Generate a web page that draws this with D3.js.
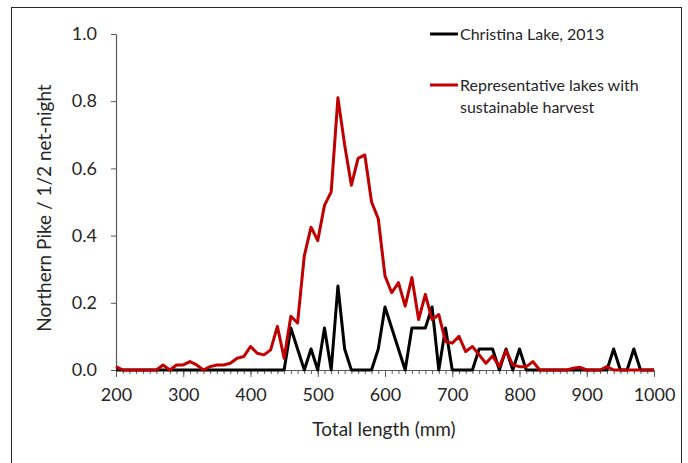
<!DOCTYPE html>
<html lang="en">
<head>
    <meta charset="UTF-8">
    <title>Northern Pike length frequency</title>
    <script src="https://cdn.jsdelivr.net/npm/d3@7"></script>
    <style>
        body{
            margin: 0;
            background: #fff;
        }
        text{
            font-family: Lato, "Open Sans", sans-serif;
            fill: #262626;
        }
        .axis path, .axis line{
            stroke: #595959;
        }
        .axis text{
            font-size: 18px;
        }
        .series{
            fill: none;
            stroke-width: 3px;
            stroke-linejoin: round;
        }
    </style>
</head>
<body>
<svg id="svg_main" width="688" height="463"></svg>
<script>
    // length classes (mm)
    const lengths = [200, 210, 220, 230, 240, 250, 260, 270, 280, 290,
        300, 310, 320, 330, 340, 350, 360, 370, 380, 390,
        400, 410, 420, 430, 440, 450, 460, 470, 480, 490,
        500, 510, 520, 530, 540, 550, 560, 570, 580, 590,
        600, 610, 620, 630, 640, 650, 660, 670, 680, 690,
        700, 710, 720, 730, 740, 750, 760, 770, 780, 790,
        800, 810, 820, 830, 840, 850, 860, 870, 880, 890,
        900, 910, 920, 930, 940, 950, 960, 970, 980, 990, 1000];

    // Christina Lake, 2013
    const christina = [0, 0, 0, 0, 0, 0, 0, 0, 0, 0,
        0, 0, 0, 0, 0, 0, 0, 0, 0, 0,
        0, 0, 0, 0, 0, 0, 0.125, 0.0625, 0, 0.0625,
        0, 0.125, 0, 0.25, 0.0625, 0, 0, 0, 0, 0.0625,
        0.1875, 0.125, 0.0625, 0, 0.125, 0.125, 0.125, 0.1875, 0, 0.125,
        0, 0, 0, 0, 0.0625, 0.0625, 0.0625, 0, 0.0625, 0,
        0.0625, 0, 0, 0, 0, 0, 0, 0, 0, 0,
        0, 0, 0, 0, 0.0625, 0, 0, 0.0625, 0, 0, 0];

    // Representative lakes with sustainable harvest
    const representative = [0.01, 0, 0, 0, 0, 0, 0, 0.015, 0, 0.015,
        0.015, 0.025, 0.015, 0, 0.01, 0.015, 0.015, 0.02, 0.035, 0.04,
        0.07, 0.05, 0.045, 0.06, 0.13, 0.035, 0.16, 0.14, 0.34, 0.425,
        0.385, 0.49, 0.53, 0.81, 0.67, 0.55, 0.63, 0.64, 0.5, 0.45,
        0.28, 0.23, 0.26, 0.19, 0.275, 0.15, 0.225, 0.15, 0.165, 0.085,
        0.08, 0.1, 0.055, 0.07, 0.045, 0.02, 0.042, 0.01, 0.058, 0.015,
        0.01, 0.01, 0.025, 0, 0, 0, 0, 0, 0.005, 0.008,
        0, 0, 0, 0.01, 0, 0, 0, 0, 0, 0, 0];

    const xTicks = [200, 300, 400, 500, 600, 700, 800, 900, 1000];
    const yTicks = [0, 0.2, 0.4, 0.6, 0.8, 1.0];

    const seriesList = [
        {name: ["Christina Lake, 2013"], values: christina, color: "#000000"},
        {name: ["Representative lakes with", "sustainable harvest"], values: representative, color: "#c00000"}
    ];

    let svg = d3.select('#svg_main');

    // outer frame
    svg.append('rect')
        .attr('x', 11.5).attr('y', 7.5)
        .attr('width', 670).attr('height', 480)
        .attr('fill', 'none')
        .attr('stroke', '#262626')
        .attr('stroke-width', 1);

    let xScale = d3.scaleLinear().domain([200, 1000]).range([116, 654]);
    let yScale = d3.scaleLinear().domain([0, 1]).range([370, 34]);

    // minor x ticks every 10 mm
    svg.append('g')
        .attr('class', 'axis')
        .attr('transform', `translate(0,${yScale(0)})`)
        .call(d3.axisBottom(xScale).tickValues(lengths).tickSize(4).tickSizeOuter(0).tickFormat(''));

    // major x ticks
    svg.append('g')
        .attr('class', 'axis')
        .attr('transform', `translate(0,${yScale(0)})`)
        .call(d3.axisBottom(xScale).tickValues(xTicks).tickSize(7).tickSizeOuter(0).tickPadding(11).tickFormat(d3.format('d')));

    svg.append('g')
        .attr('class', 'axis')
        .attr('transform', `translate(${xScale(200)},0)`)
        .call(d3.axisLeft(yScale).tickValues(yTicks).tickSize(5).tickSizeOuter(0).tickPadding(14).tickFormat(d3.format('.1f')));

    svg.selectAll('.axis .domain').attr('stroke-width', 1.2);

    // lines
    let line = d3.line()
        .x((d, i) => xScale(lengths[i]))
        .y(d => yScale(d));

    svg.selectAll('.series')
        .data(seriesList)
        .enter()
        .append('path')
        .attr('class', 'series')
        .attr('stroke', d => d.color)
        .attr('d', d => line(d.values));

    // axis titles
    svg.append('text')
        .attr('x', 384).attr('y', 436)
        .attr('text-anchor', 'middle')
        .style('font-size', '19px')
        .text('Total length (mm)');

    svg.append('text')
        .attr('transform', `translate(51,${yScale(0.5) + 6}) rotate(-90)`)
        .attr('text-anchor', 'middle')
        .style('font-size', '19px')
        .text('Northern Pike / 1/2 net-night');

    // legend
    let legend = svg.append('g');
    let legendY = [34, 85];
    seriesList.forEach(function (s, k) {
        legend.append('line')
            .attr('x1', 430).attr('x2', 458)
            .attr('y1', legendY[k]).attr('y2', legendY[k])
            .attr('stroke', s.color)
            .attr('stroke-width', 3);
        s.name.forEach(function (t, j) {
            legend.append('text')
                .attr('x', 460)
                .attr('y', legendY[k] + 6 + j * 22)
                .style('font-size', '16px')
                .text(t);
        });
    });
</script>
</body>
</html>
